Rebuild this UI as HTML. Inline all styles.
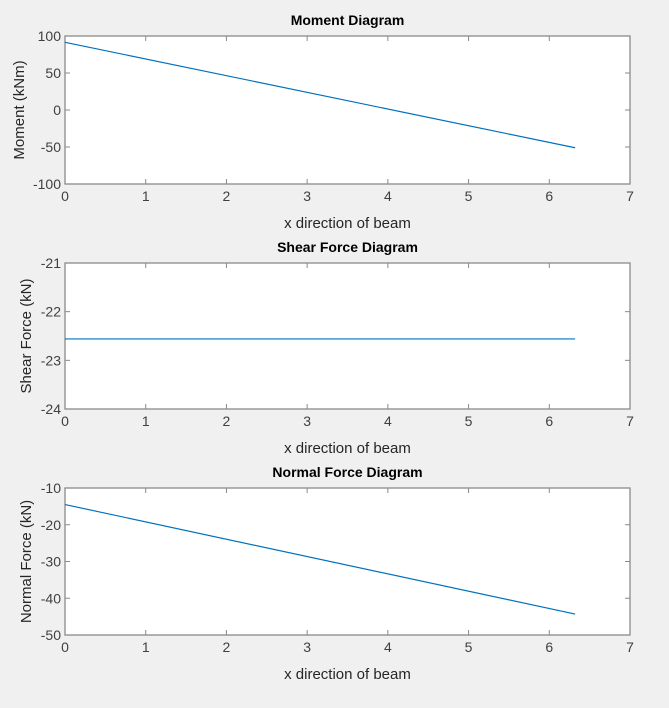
<!DOCTYPE html>
<html><head><meta charset="utf-8"><style>
html,body{margin:0;padding:0;background:#f0f0f0;}
svg{display:block;font-family:"Liberation Sans",sans-serif;}
</style></head><body>
<svg id="fig" width="669" height="708"></svg>
<script>
const xTicks=[0,1,2,3,4,5,6,7];
const xData=[0,6.32];
const momentValues=[91.5,-51];
const shearValues=[-22.56,-22.56];
const normalValues=[-14.5,-44.3];
const momentTicks=[100,50,0,-50,-100];
const shearTicks=[-21,-22,-23,-24];
const normalTicks=[-10,-20,-30,-40,-50];
const titles=["Moment Diagram","Shear Force Diagram","Normal Force Diagram"];
const ylabels=["Moment (kNm)","Shear Force (kN)","Normal Force (kN)"];
const NS="http://www.w3.org/2000/svg";
const svg=document.getElementById('fig');
function mk(t,a,p){const e=document.createElementNS(NS,t);for(const k in a)e.setAttribute(k,a[k]);(p||svg).appendChild(e);return e;}
const panels=[
 {top:36,bot:184,ymin:-100,ymax:100,ticks:momentTicks,vals:momentValues,name:'moment'},
 {top:263,bot:409,ymin:-24,ymax:-21,ticks:shearTicks,vals:shearValues,name:'shear'},
 {top:488,bot:635,ymin:-50,ymax:-10,ticks:normalTicks,vals:normalValues,name:'normal'}];
const L=65,R=630;
panels.forEach((p,i)=>{
 const g=mk('g',{});
 
 
 const xs=v=>L+(v-xTicks[0])/(xTicks[xTicks.length-1]-xTicks[0])*(R-L);
 const ys=v=>p.bot-(v-p.ymin)/(p.ymax-p.ymin)*(p.bot-p.top);
 mk('rect',{x:L,y:p.top,width:R-L,height:p.bot-p.top,fill:'#fff',stroke:'#8a8a8a','stroke-width':1.3},g);
 xTicks.forEach(t=>{const x=xs(t);
  mk('line',{x1:x,x2:x,y1:p.bot,y2:p.bot-5,stroke:'#8a8a8a'},g);
  mk('line',{x1:x,x2:x,y1:p.top,y2:p.top+5,stroke:'#8a8a8a'},g);
  const tx=mk('text',{x:x,y:p.bot+17,'text-anchor':'middle','font-size':14,fill:'#404040'},g);tx.textContent=t;
  });
 p.ticks.forEach(t=>{const y=ys(t);
  mk('line',{x1:L,x2:L+5,y1:y,y2:y,stroke:'#8a8a8a'},g);
  mk('line',{x1:R,x2:R-5,y1:y,y2:y,stroke:'#8a8a8a'},g);
  const tx=mk('text',{x:L-4,y:y+5,'text-anchor':'end','font-size':14,fill:'#404040'},g);tx.textContent=t;
  });
 const pts=xData.map((x,j)=>xs(x)+','+ys(p.vals[j])).join(' ');
 const ln=mk('polyline',{points:pts,fill:'none',stroke:'#0072bd','stroke-width':1.2},g);
 
 const ti=mk('text',{x:(L+R)/2,y:p.top-11,'text-anchor':'middle','font-size':14,'font-weight':'bold',fill:'#000'},g);ti.textContent=titles[i];
 
 const xl=mk('text',{x:(L+R)/2,y:p.bot+44,'text-anchor':'middle','font-size':15,fill:'#262626'},g);xl.textContent='x direction of beam';
 
 const cy=(p.top+p.bot)/2;
 const yl=mk('text',{x:0,y:0,transform:`translate(${i==0?24:31},${cy}) rotate(-90)`,'text-anchor':'middle','font-size':15,fill:'#262626'},g);yl.textContent=ylabels[i];
 
});
</script>
</body></html>
